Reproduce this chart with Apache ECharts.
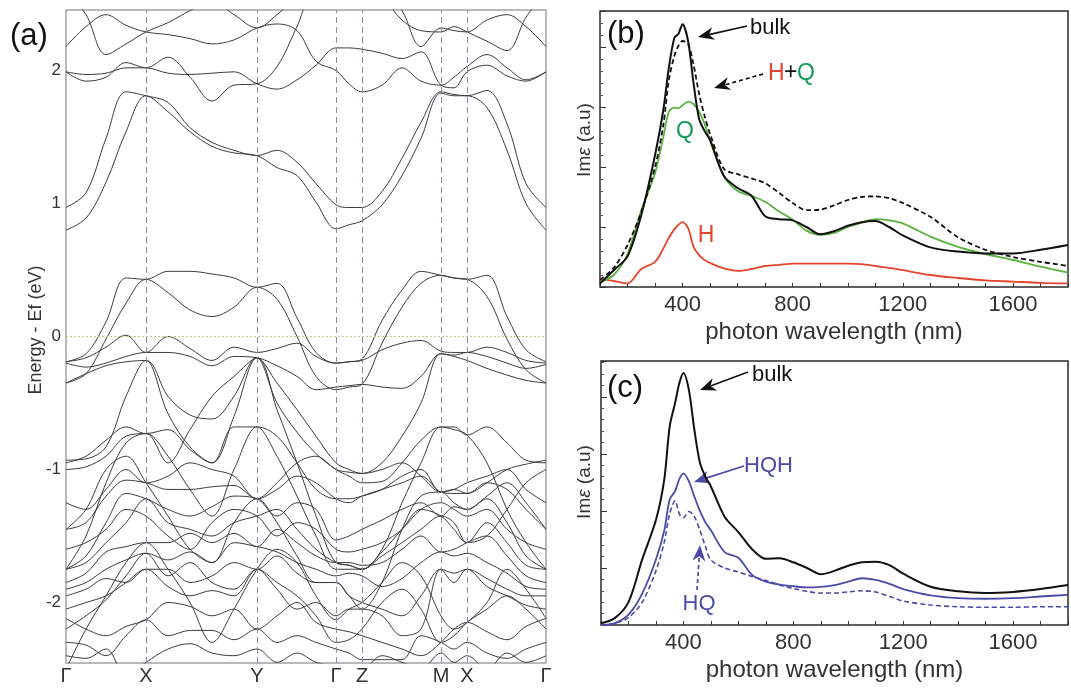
<!DOCTYPE html>
<html><head><meta charset="utf-8">
<script src="https://cdn.jsdelivr.net/npm/echarts@6/dist/echarts.min.js"></script>
<style>html,body{margin:0;padding:0;background:#fff}#c{width:1071px;height:688px}</style>
</head><body><div id="c"></div>
<script>
// ---------- (a) band structure ----------
// positions along the k-path (path-length units) at which band energies are sampled
const kPath = [0,20,40,60,80,102,124,146,168,191,211,231,250,270,283,296,316,336,355,375,388,401,421,441,460,480];
const kTickPos = [0,80,191,270,296,375,401,480];
const kTickNames = ['Γ','X','Y','Γ','Z','M','X','Γ'];
const energyTicks = [-2,-1,0,1,2];

// band energies (eV, relative to Ef) at each kPath sample
const bandUp1 = [1.99,1.92,1.95,2.06,2.02,2.10,1.95,1.77,1.89,1.90,2.03,2.33,2.62,2.62,2.62,2.62,2.62,2.45,2.18,2.32,2.30,2.29,2.38,2.42,2.33,2.18];
const bandUp2 = [1.99,1.97,1.98,2.02,2.02,1.98,1.97,1.98,1.99,1.90,1.86,1.93,2.04,2.17,2.17,2.16,2.13,2.09,2.14,1.89,1.87,1.99,2.04,1.96,1.92,1.99];
const bandUp3 = [2.18,2.33,2.42,2.34,2.29,2.27,2.24,2.20,2.23,2.32,2.35,2.30,2.07,2.00,1.90,1.84,1.89,2.02,1.92,1.89,1.95,2.03,2.12,2.02,1.93,1.99];
const bandUp4 = [2.60,2.42,2.12,2.20,2.29,2.36,2.45,2.52,2.42,2.32,2.42,2.55,2.62,2.62,2.62,2.62,2.55,2.38,2.30,2.29,2.33,2.29,2.22,2.15,2.40,2.60];
const bandCb1 = [0.97,1.08,1.49,1.84,1.81,1.76,1.57,1.46,1.40,1.36,1.40,1.31,1.15,0.99,0.97,0.97,1.09,1.34,1.61,1.84,1.82,1.81,1.85,1.60,1.15,0.97];
const bandCb2 = [0.80,0.89,1.16,1.54,1.81,1.69,1.54,1.43,1.38,1.36,1.27,1.21,1.01,0.81,0.84,0.87,0.99,1.21,1.49,1.83,1.81,1.81,1.72,1.40,1.00,0.80];
const bandVb1 = [-0.19,-0.13,0.11,0.44,0.43,0.49,0.49,0.47,0.44,0.37,0.40,0.14,-0.12,-0.20,-0.19,-0.17,0.12,0.35,0.49,0.46,0.44,0.43,0.46,0.15,-0.10,-0.19];
const bandVb2 = [-0.35,-0.28,-0.02,0.25,0.43,0.33,0.20,0.15,0.22,0.37,0.28,0.00,-0.30,-0.40,-0.38,-0.36,-0.05,0.22,0.40,0.46,0.44,0.43,0.30,-0.02,-0.25,-0.35];
const bandVb3 = [-0.19,-0.16,-0.08,0.01,-0.12,0.00,-0.09,-0.18,-0.08,-0.12,-0.09,-0.05,-0.15,-0.20,-0.19,-0.18,-0.10,-0.05,-0.03,-0.11,-0.12,-0.12,-0.08,-0.12,-0.18,-0.20];
const bandVb4 = [-0.20,-0.23,-0.20,-0.15,-0.12,-0.12,-0.15,-0.22,-0.15,-0.16,-0.22,-0.30,-0.40,-0.38,-0.37,-0.36,-0.38,-0.39,-0.30,-0.13,-0.14,-0.12,-0.15,-0.20,-0.24,-0.21];
const bandVb5 = [-0.35,-0.28,-0.22,-0.19,-0.18,-0.45,-0.59,-0.62,-0.45,-0.16,-0.35,-0.55,-0.75,-0.95,-1.00,-1.03,-0.95,-0.75,-0.50,-0.13,-0.15,-0.18,-0.24,-0.29,-0.33,-0.35];
const bandVb6 = [-0.93,-0.92,-0.83,-0.45,-0.18,-0.58,-0.83,-0.95,-0.60,-0.16,-0.50,-0.72,-0.88,-1.00,-1.05,-1.10,-1.09,-0.95,-0.78,-0.68,-0.68,-0.74,-0.68,-0.80,-0.93,-0.95];
const bandVb7 = [-0.95,-0.90,-0.78,-0.68,-0.73,-0.70,-0.85,-0.95,-0.68,-0.68,-0.75,-0.95,-1.15,-1.22,-1.22,-1.20,-1.15,-1.05,-1.00,-1.17,-1.15,-1.18,-1.10,-1.00,-0.96,-0.93];
const bandD1 = [-1.25,-1.30,-1.15,-1.00,-1.10,-1.05,-0.95,-1.00,-1.05,-1.22,-1.10,-0.95,-0.90,-1.00,-1.02,-1.03,-1.00,-0.95,-1.05,-1.17,-1.15,-1.10,-1.05,-1.00,-1.15,-1.25];
const bandD2 = [-1.45,-1.40,-1.20,-1.08,-1.10,-1.15,-1.15,-1.13,-1.12,-1.22,-1.15,-1.05,-1.10,-1.22,-1.25,-1.20,-1.15,-1.10,-1.05,-1.17,-1.18,-1.18,-1.10,-1.15,-1.30,-1.45];
const bandD3 = [-1.75,-1.65,-1.40,-1.18,-1.22,-1.30,-1.35,-1.28,-1.20,-1.22,-1.35,-1.25,-1.30,-1.53,-1.50,-1.45,-1.38,-1.30,-1.25,-1.35,-1.28,-1.30,-1.22,-1.40,-1.65,-1.75];
const bandD4 = [-1.75,-1.70,-1.55,-1.40,-1.22,-1.40,-1.45,-1.50,-1.40,-1.35,-1.30,-1.45,-1.60,-1.70,-1.72,-1.75,-1.65,-1.55,-1.45,-1.35,-1.40,-1.55,-1.40,-1.55,-1.72,-1.75];
const bandD5 = [-1.85,-1.78,-1.62,-1.58,-1.55,-1.55,-1.48,-1.55,-1.48,-1.58,-1.45,-1.55,-1.65,-1.70,-1.70,-1.72,-1.70,-1.60,-1.50,-1.62,-1.60,-1.55,-1.50,-1.65,-1.80,-1.85];
const bandD6 = [-1.90,-1.85,-1.75,-1.68,-1.63,-1.68,-1.62,-1.70,-1.55,-1.58,-1.62,-1.70,-1.75,-1.80,-1.78,-1.80,-1.88,-1.82,-1.70,-1.62,-1.65,-1.63,-1.70,-1.78,-1.88,-1.90];
const bandD7 = [-1.95,-1.90,-1.82,-1.85,-1.75,-1.75,-1.85,-1.80,-1.70,-1.75,-1.65,-1.78,-1.85,-1.85,-1.95,-2.00,-2.05,-2.10,-1.95,-1.75,-1.78,-1.75,-1.82,-1.90,-1.95,-1.95];
const bandD8 = [-2.05,-2.00,-1.95,-1.85,-1.75,-1.88,-1.95,-1.91,-1.95,-1.75,-1.90,-2.05,-2.00,-2.10,-2.05,-2.05,-2.10,-2.25,-2.20,-1.75,-1.85,-1.75,-1.88,-1.95,-2.02,-2.05];
const bandD9 = [-2.12,-2.20,-2.25,-2.18,-2.13,-2.00,-2.03,-2.10,-2.05,-2.20,-2.10,-2.00,-2.15,-2.20,-2.22,-2.25,-2.30,-2.35,-2.40,-2.30,-2.20,-2.15,-2.22,-2.28,-2.18,-2.12];
const bandD10 = [-2.30,-2.32,-2.40,-2.25,-2.13,-2.25,-2.21,-2.21,-2.28,-2.20,-2.30,-2.25,-2.30,-2.35,-2.38,-2.43,-2.43,-2.43,-2.25,-2.30,-2.35,-2.30,-2.38,-2.42,-2.35,-2.30];
const bandD11 = [-2.40,-2.42,-2.35,-2.55,-2.45,-2.35,-2.31,-2.38,-2.40,-2.35,-2.45,-2.38,-2.45,-2.48,-2.50,-2.50,-2.40,-2.45,-2.50,-2.38,-2.45,-2.40,-2.50,-2.38,-2.45,-2.40];
const bandD12 = [-1.60,-1.55,-1.45,-1.30,-1.35,-1.50,-1.60,-1.40,-1.30,-1.35,-1.50,-1.40,-1.45,-1.60,-1.62,-1.60,-1.55,-1.45,-1.30,-1.25,-1.30,-1.35,-1.30,-1.45,-1.55,-1.60];
const bandD13 = [-2.20,-2.10,-1.98,-1.80,-1.63,-1.80,-1.70,-1.85,-1.90,-1.75,-1.85,-1.95,-2.10,-2.30,-2.28,-2.20,-2.00,-1.90,-2.05,-2.30,-2.25,-2.15,-2.05,-1.95,-2.05,-2.20];
const bandS1 = [-1.75,-1.50,-1.10,-0.80,-0.73,-0.90,-1.15,-1.35,-1.00,-0.68,-0.90,-1.20,-1.50,-1.75,-1.75,-1.75,-1.60,-1.25,-0.95,-0.68,-0.70,-0.74,-0.95,-1.30,-1.55,-1.75];
const bandS2 = [-1.45,-1.30,-1.00,-0.90,-1.10,-1.35,-1.60,-1.70,-1.40,-1.22,-1.40,-1.65,-1.85,-1.85,-1.95,-2.05,-1.85,-1.45,-1.20,-1.17,-1.25,-1.30,-1.20,-1.10,-1.25,-1.45];
const bandS3 = [-2.50,-2.20,-1.95,-1.70,-1.55,-1.75,-2.00,-2.30,-2.05,-1.75,-1.60,-1.70,-1.95,-2.13,-2.05,-2.00,-1.85,-1.70,-1.80,-2.10,-2.20,-2.15,-2.00,-1.75,-1.90,-2.12];
const bandS4 = [-1.00,-0.98,-0.90,-0.75,-0.73,-0.95,-0.70,-0.45,-0.30,-0.16,-0.55,-0.95,-1.35,-1.70,-1.72,-1.75,-1.62,-1.45,-1.30,-1.35,-1.45,-1.55,-1.50,-1.30,-1.10,-1.00];

const bands = [bandUp1,bandUp2,bandUp3,bandUp4,bandCb1,bandCb2,bandVb1,bandVb2,bandVb3,bandVb4,bandVb5,
  bandVb6,bandVb7,bandD1,bandD2,bandD3,bandD4,bandD5,bandD6,bandD7,bandD8,bandD9,bandD10,bandD11,bandD12,bandD13,
  bandS1,bandS2,bandS3,bandS4];

// ---------- (b), (c) imaginary part of the dielectric function ----------
const wavelength = [100,150,200,250,300,330,350,370,385,400,420,440,460,480,500,550,600,650,700,750,800,850,900,950,1000,1050,1100,1150,1200,1300,1400,1500,1600,1700,1800];
const bulkB  = [0.06,0.28,0.51,1.20,2.20,2.95,3.65,4.15,4.22,4.38,4.10,3.39,2.80,2.60,2.45,1.85,1.65,1.52,1.18,1.13,1.11,1.00,0.88,0.93,1.02,1.08,1.10,1.00,0.86,0.66,0.59,0.56,0.56,0.62,0.70];
const hPlusQB = [0.12,0.32,0.70,1.25,2.00,2.70,3.45,3.85,4.02,4.10,4.05,3.70,3.22,2.85,2.55,1.97,1.88,1.81,1.73,1.57,1.40,1.28,1.29,1.36,1.45,1.50,1.51,1.48,1.40,1.17,0.83,0.62,0.50,0.42,0.35];
const qB     = [0.08,0.20,0.55,1.28,1.90,2.50,2.92,2.99,2.98,3.03,3.09,3.05,2.92,2.72,2.44,1.85,1.60,1.52,1.42,1.26,1.12,0.94,0.87,0.90,1.00,1.07,1.13,1.11,1.06,0.84,0.67,0.55,0.45,0.34,0.24];
const hB     = [0.13,0.10,0.06,0.30,0.42,0.64,0.82,0.96,1.04,1.08,0.98,0.67,0.53,0.45,0.40,0.31,0.27,0.30,0.35,0.37,0.39,0.39,0.39,0.39,0.39,0.38,0.35,0.32,0.28,0.20,0.15,0.11,0.09,0.07,0.06];
const bulkC  = [0.03,0.12,0.40,1.15,1.84,2.54,3.48,3.90,4.24,4.42,4.12,3.42,2.85,2.60,2.43,1.90,1.63,1.33,1.16,1.17,1.10,1.00,0.89,0.95,1.04,1.10,1.11,1.05,0.90,0.67,0.59,0.56,0.58,0.63,0.70];
const hqhC   = [0.00,0.03,0.18,0.55,1.15,1.65,2.20,2.35,2.56,2.66,2.52,2.25,2.00,1.80,1.66,1.28,1.18,0.88,0.76,0.71,0.68,0.66,0.67,0.70,0.76,0.82,0.79,0.72,0.63,0.52,0.47,0.46,0.47,0.50,0.53];
const hqC    = [0.00,0.03,0.13,0.40,0.95,1.45,1.95,2.18,1.95,1.88,1.99,1.90,1.66,1.38,1.14,1.00,0.93,0.85,0.78,0.70,0.64,0.59,0.56,0.56,0.58,0.60,0.58,0.50,0.42,0.35,0.32,0.31,0.31,0.32,0.32];
const wavelengthLabels = [400,800,1200,1600];

// ---------- styling ----------
const FONT = '"Liberation Sans", Arial, sans-serif';
const BAND = '#3c3c3c';
const BLACK = '#111111';
const RED = '#e5452f';
const GREEN = '#5cb23f';
const GREEN_TXT = '#169a5c';
const BLUE = '#4b4aa6';

const chart = echarts.init(document.getElementById('c'), null, {renderer: 'canvas'});

const pair = (xs, ys) => xs.map((x, i) => [x, ys[i]]);

const series = [];
bands.forEach(b => series.push({
  type: 'line', xAxisIndex: 0, yAxisIndex: 0, data: pair(kPath, b),
  showSymbol: false, smooth: 0.35, silent: true,
  lineStyle: {color: BAND, width: 1}
}));
// high-symmetry guides and Fermi level
series.push({
  type: 'line', xAxisIndex: 0, yAxisIndex: 0, data: [], silent: true,
  markLine: {
    silent: true, symbol: 'none', label: {show: false}, animation: false,
    data: kTickPos.slice(1, -1).map(v => ({xAxis: v, lineStyle: {color: '#8c8cae', type: [6, 4], width: 1}}))
      .concat([{yAxis: 0, lineStyle: {color: '#c9c29a', type: [2, 2], width: 1}}])
  }
});

function spectrum(ax, ys, color, width, dashed) {
  return {
    type: 'line', xAxisIndex: ax, yAxisIndex: ax, data: pair(wavelength, ys),
    showSymbol: false, smooth: 0.3, silent: true,
    lineStyle: {color, width, type: dashed ? [5, 3] : 'solid'}
  };
}
series.push(spectrum(1, hB, RED, 1.8));
series.push(spectrum(1, qB, GREEN, 1.8));
series.push(spectrum(1, hPlusQB, BLACK, 1.8, true));
series.push(spectrum(1, bulkB, BLACK, 2));
series.push(spectrum(2, hqC, BLUE, 1.6, true));
series.push(spectrum(2, hqhC, BLUE, 1.8));
series.push(spectrum(2, bulkC, BLACK, 2));

const specX = (gi) => ({
  gridIndex: gi, type: 'value', min: 100, max: 1800, interval: 100,
  axisLine: {show: false}, splitLine: {show: false},
  axisTick: {show: true, inside: true, length: 4, lineStyle: {color: '#333'}},
  axisLabel: {fontSize: 22, color: '#333', fontFamily: FONT, margin: 7,
    formatter: v => wavelengthLabels.includes(v) ? String(v) : ''},
  name: 'photon wavelength (nm)', nameLocation: 'middle', nameGap: 33,
  nameTextStyle: {fontSize: 24, color: '#333', fontFamily: FONT}
});
const specY = (gi, max) => ({
  gridIndex: gi, type: 'value', min: 0, max, interval: 1,
  axisLine: {show: false}, splitLine: {show: false},
  axisTick: {show: true, inside: true, length: 6, lineStyle: {color: '#333'}},
  minorTick: {show: true, splitNumber: 5, length: 3, lineStyle: {color: '#555'}},
  axisLabel: {show: false}
});

function arrow(x1, y1, x2, y2, color, dashed) {
  const a = Math.atan2(y2 - y1, x2 - x1), L = 16, W = 6.5;
  const bx = x2 - L * Math.cos(a), by = y2 - L * Math.sin(a);
  const px = -Math.sin(a) * W, py = Math.cos(a) * W;
  const ix = x2 - (L * 0.7) * Math.cos(a), iy = y2 - (L * 0.7) * Math.sin(a);
  return [
    {type: 'line', silent: true, shape: {x1, y1, x2: ix, y2: iy},
      style: {stroke: color, lineWidth: 1.7, lineDash: dashed ? [4, 3] : null}},
    {type: 'polygon', silent: true, shape: {points: [[x2, y2], [bx + px, by + py], [ix, iy], [bx - px, by - py]]},
      style: {fill: color}}
  ];
}
function label(x, y, text, color, size, align) {
  return {type: 'text', silent: true, x, y,
    style: {text, fill: color, font: `${size}px ${FONT}`, textAlign: align || 'left', textVerticalAlign: 'middle'}};
}
function yName(x, y, text, size) {
  return {type: 'text', silent: true, x, y, rotation: Math.PI / 2,
    style: {text, fill: '#333', font: `${size}px ${FONT}`, textAlign: 'center', textVerticalAlign: 'middle',
      rich: {i: {font: `italic ${size}px ${FONT}`, fill: '#333'}}}};
}

const graphics = [
  label(10, 36, '(a)', '#111', 31),
  label(607, 34, '(b)', '#111', 31),
  label(607, 388, '(c)', '#111', 31),
  yName(36, 330, 'Energy - Ef (eV)', 18),
  yName(585, 140, 'Im{i|ε} (a.u)', 19),
  yName(585, 482, 'Im{i|ε} (a.u)', 19),
  label(750, 28, 'bulk', '#111', 22),
  label(768, 74, 'H', RED, 23),
  label(784, 73, '+', '#111', 23),
  label(797, 74, 'Q', GREEN_TXT, 23),
  label(685, 132, 'Q', GREEN_TXT, 23, 'center'),
  label(706, 236, 'H', RED, 23, 'center'),
  label(752, 375, 'bulk', '#111', 22),
  label(744, 466, 'HQH', BLUE, 22),
  label(699, 604, 'HQ', BLUE, 22, 'center'),
  ...arrow(747, 26, 698, 37, '#111'),
  ...arrow(763, 74, 714, 88, '#111', true),
  ...arrow(748, 372, 700, 390, '#111'),
  ...arrow(744, 466, 694, 482, BLUE),
  ...arrow(697, 590, 700, 545, BLUE, true)
];

chart.setOption({
  animation: false,
  backgroundColor: '#fff',
  textStyle: {fontFamily: FONT},
  grid: [
    {left: 66, top: 10, width: 480, height: 653, show: true, borderColor: '#a3a3a3', borderWidth: 1.5, backgroundColor: 'transparent'},
    {left: 600, top: 11, width: 481, height: 276, show: true, borderColor: '#2a2a2a', borderWidth: 1.5, backgroundColor: 'transparent'},
    {left: 601, top: 361, width: 480, height: 264, show: true, borderColor: '#2a2a2a', borderWidth: 1.5, backgroundColor: 'transparent'}
  ],
  xAxis: [
    {gridIndex: 0, type: 'value', min: 0, max: 480,
      axisLine: {show: false}, splitLine: {show: false}, axisTick: {show: false},
      axisLabel: {customValues: kTickPos, fontSize: 20, color: '#333', fontFamily: FONT, margin: 3,
        formatter: v => kTickNames[kTickPos.indexOf(v)] || ''}},
    specX(1), specX(2)
  ],
  yAxis: [
    {gridIndex: 0, type: 'value', min: -2.455, max: 2.455,
      axisLine: {show: false}, splitLine: {show: false}, axisTick: {show: false},
      axisLabel: {customValues: energyTicks, fontSize: 17, color: '#333', fontFamily: FONT, margin: 5}},
    specY(1, 4.6), specY(2, 4.63)
  ],
  series,
  graphic: {elements: graphics}
});
</script>
</body></html>
